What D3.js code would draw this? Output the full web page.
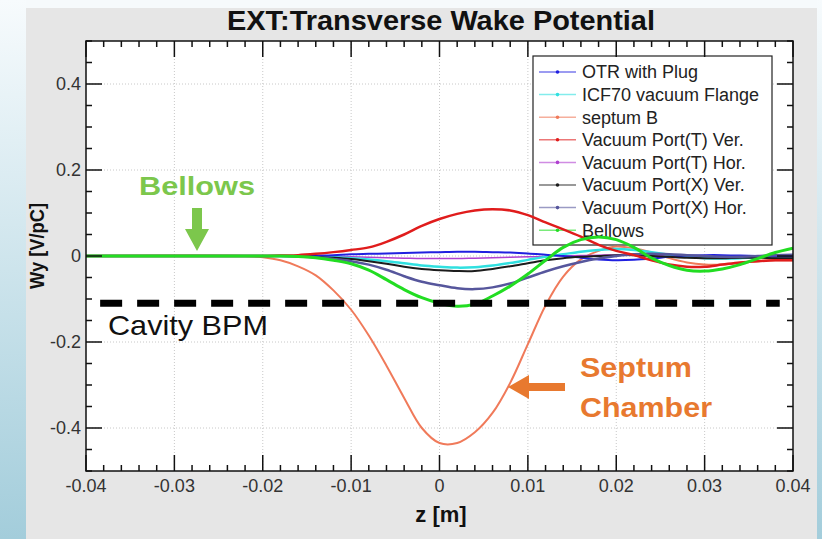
<!DOCTYPE html>
<html>
<head>
<meta charset="utf-8">
<script src="https://cdn.jsdelivr.net/npm/d3@7"></script>
<style>
  html, body { margin: 0; padding: 0; background: #fff; }
  svg { display: block; }
</style>
</head>
<body>
<svg id="chart" width="822" height="539"></svg>
<script>
// Longitudinal position along the bunch, z [m]
const zGrid = [-0.04, -0.022, -0.020, -0.018, -0.016, -0.014, -0.012, -0.010, -0.008, -0.006,
               -0.004, -0.002, 0.000, 0.002, 0.004, 0.006, 0.008, 0.010, 0.012, 0.014,
               0.016, 0.018, 0.020, 0.022, 0.024, 0.026, 0.028, 0.030, 0.032, 0.034,
               0.036, 0.038, 0.040];

// Transverse wake potential Wy [V/pC] for each component
const otrPlug  = [0, 0, 0, 0, 0, 0.001, 0.002, 0.004, 0.005, 0.006, 0.007, 0.008, 0.009, 0.010, 0.010, 0.009, 0.008,
                  0.006, 0.003, 0, -0.004, -0.008, -0.010, -0.009, -0.006, -0.002, 0.001, 0.002, 0.002, 0.001, 0, -0.001, -0.001];
const icf70    = [0, 0, 0, 0, 0, -0.001, -0.003, -0.005, -0.008, -0.012, -0.017, -0.022, -0.025, -0.027, -0.026, -0.022, -0.016,
                  -0.009, -0.002, 0.004, 0.010, 0.014, 0.016, 0.014, 0.009, 0.003, -0.002, -0.005, -0.006, -0.005, -0.003, -0.001, 0];
const septumB  = [0, 0, -0.003, -0.010, -0.024, -0.045, -0.080, -0.125, -0.185, -0.255, -0.330, -0.400, -0.435, -0.435, -0.410, -0.365, -0.295,
                  -0.205, -0.115, -0.048, -0.008, 0.012, 0.022, 0.018, 0.008, -0.005, -0.015, -0.020, -0.020, -0.016, -0.012, -0.010, -0.010];
const portTVer = [0, 0, 0, 0.001, 0.002, 0.005, 0.009, 0.014, 0.020, 0.033, 0.050, 0.070, 0.086, 0.098, 0.106, 0.109, 0.106,
                  0.095, 0.078, 0.062, 0.045, 0.026, 0.012, 0.002, -0.010, -0.020, -0.025, -0.025, -0.020, -0.015, -0.012, -0.010, -0.010];
const portTHor = [0, 0, 0, 0, 0, 0, -0.001, -0.002, -0.003, -0.004, -0.005, -0.006, -0.006, -0.006, -0.005, -0.004, -0.003,
                  -0.002, -0.001, 0, 0.001, 0.002, 0.002, 0.002, 0.001, 0, -0.001, -0.001, -0.001, 0, 0, 0, 0];
const portXVer = [0, 0, 0, 0, 0, -0.002, -0.004, -0.007, -0.012, -0.018, -0.025, -0.030, -0.033, -0.035, -0.035, -0.030, -0.024,
                  -0.017, -0.010, -0.005, -0.002, 0, 0.002, 0.002, 0, -0.002, -0.004, -0.005, -0.005, -0.004, -0.004, -0.005, -0.005];
const portXHor = [0, 0, 0, 0, -0.001, -0.003, -0.007, -0.012, -0.020, -0.032, -0.047, -0.060, -0.068, -0.075, -0.077, -0.073, -0.064,
                  -0.050, -0.036, -0.024, -0.014, -0.006, 0, 0.004, 0.005, 0.004, 0.002, 0, -0.002, -0.002, 0, 0.002, 0.003];
const bellows  = [0, 0, 0, 0, -0.001, -0.004, -0.010, -0.018, -0.033, -0.055, -0.078, -0.097, -0.110, -0.117, -0.112, -0.093, -0.070,
                  -0.042, -0.010, 0.020, 0.038, 0.044, 0.038, 0.020, -0.005, -0.022, -0.033, -0.035, -0.030, -0.020, -0.006, 0.008, 0.018];

const seriesNames  = ["OTR with Plug", "ICF70 vacuum Flange", "septum B", "Vacuum Port(T) Ver.",
                      "Vacuum Port(T) Hor.", "Vacuum Port(X) Ver.", "Vacuum Port(X) Hor.", "Bellows"];
const seriesValues = [otrPlug, icf70, septumB, portTVer, portTHor, portXVer, portXHor, bellows];
const seriesColors = ["#2020e0", "#30e0e0", "#f07a5a", "#e01c1c", "#b040d0", "#1c1c1c", "#56569c", "#22dd22"];
const seriesWidths = [2, 2.5, 2, 2.5, 1.5, 2, 2.5, 3];
const drawOrder    = [2, 4, 1, 0, 5, 6, 3, 7];

const xTicks = [-0.04, -0.03, -0.02, -0.01, 0, 0.01, 0.02, 0.03, 0.04];
const xTickLabels = ["-0.04", "-0.03", "-0.02", "-0.01", "0", "0.01", "0.02", "0.03", "0.04"];
const yTicks = [-0.4, -0.2, 0, 0.2, 0.4];
const yTickLabels = ["-0.4", "-0.2", "0", "0.2", "0.4"];

// Cavity BPM resolution level
const bpmLevel = -0.11;
const bpmExtent = [-0.0384, 0.0385];

const svg = d3.select("#chart");
const W = 822, H = 539;
const plot = { left: 86, right: 793, top: 41, bottom: 471 };

// Page background: pale blue edge strips and gray figure panel
const defs = svg.append("defs");
const grad = defs.append("linearGradient").attr("id", "edge").attr("x1", 0).attr("y1", 0).attr("x2", 0).attr("y2", 1);
grad.append("stop").attr("offset", 0).attr("stop-color", "#f7fbfd");
grad.append("stop").attr("offset", 1).attr("stop-color", "#a3cddb");
svg.append("rect").attr("x", 0).attr("y", 0).attr("width", W).attr("height", H).attr("fill", "#f6fafc");
svg.append("rect").attr("x", 0).attr("y", 0).attr("width", 26).attr("height", H).attr("fill", "url(#edge)");
svg.append("rect").attr("x", 817).attr("y", 0).attr("width", 5).attr("height", H).attr("fill", "url(#edge)");
svg.append("rect").attr("x", 26).attr("y", 8).attr("width", 791).attr("height", H - 8).attr("fill", "#e6e6e6");

const x = d3.scaleLinear().domain([-0.04, 0.04]).range([plot.left, plot.right]);
const y = d3.scaleLinear().domain([-0.5, 0.5]).range([plot.bottom, plot.top]);

svg.append("rect").attr("x", plot.left).attr("y", plot.top)
  .attr("width", plot.right - plot.left).attr("height", plot.bottom - plot.top).attr("fill", "#fff");

// Dotted grid at major ticks
const grid = svg.append("g").attr("stroke", "#c8c8c8").attr("stroke-width", 1).attr("stroke-dasharray", "1,2");
grid.selectAll("line.gx").data(xTicks.slice(1, -1)).join("line")
  .attr("x1", d => x(d)).attr("x2", d => x(d)).attr("y1", plot.top).attr("y2", plot.bottom);
grid.selectAll("line.gy").data(yTicks).join("line")
  .attr("x1", plot.left).attr("x2", plot.right).attr("y1", d => y(d)).attr("y2", d => y(d));

const font = "'Liberation Sans', Arial, sans-serif";

// Legend (the curves are drawn over it)
const lg = { x: 533, y: 56, w: 239, h: 189, row: 22.6 };
const legend = svg.append("g");
legend.append("rect").attr("x", lg.x).attr("y", lg.y).attr("width", lg.w).attr("height", lg.h)
  .attr("fill", "#fff").attr("stroke", "#222").attr("stroke-width", 1.2);
seriesNames.forEach((name, i) => {
  const cy = lg.y + 16 + i * lg.row;
  legend.append("line").attr("x1", lg.x + 6).attr("x2", lg.x + 43).attr("y1", cy).attr("y2", cy)
    .attr("stroke", seriesColors[i]).attr("stroke-width", 1.5).attr("stroke-opacity", 0.6);
  legend.append("circle").attr("cx", lg.x + 24.5).attr("cy", cy).attr("r", 1.8).attr("fill", seriesColors[i]);
  legend.append("text").attr("x", lg.x + 49).attr("y", cy).attr("dy", "0.36em")
    .attr("font-family", font).attr("font-size", 18).attr("fill", "#222").text(name);
});

// Curves
const clip = defs.append("clipPath").attr("id", "plotclip");
clip.append("rect").attr("x", plot.left).attr("y", plot.top)
  .attr("width", plot.right - plot.left).attr("height", plot.bottom - plot.top);

const line = d3.line().x(d => x(d[0])).y(d => y(d[1])).curve(d3.curveCatmullRom.alpha(0.5));
const curves = svg.append("g").attr("clip-path", "url(#plotclip)");
drawOrder.forEach(i => {
  curves.append("path")
    .datum(zGrid.map((z, k) => [z, seriesValues[i][k]]))
    .attr("d", line)
    .attr("fill", "none")
    .attr("stroke", seriesColors[i])
    .attr("stroke-width", seriesWidths[i])
    .attr("stroke-linejoin", "round");
});

// Cavity BPM dashed level
svg.append("line")
  .attr("x1", x(bpmExtent[0])).attr("x2", x(bpmExtent[1]))
  .attr("y1", y(bpmLevel)).attr("y2", y(bpmLevel))
  .attr("stroke", "#000").attr("stroke-width", 7).attr("stroke-dasharray", "22,15");

// Frame and inward ticks on all four sides
const axes = svg.append("g").attr("stroke", "#111").attr("stroke-width", 1.5);
axes.append("rect").attr("x", plot.left).attr("y", plot.top)
  .attr("width", plot.right - plot.left).attr("height", plot.bottom - plot.top).attr("fill", "none");
const xMinor = d3.range(-0.04, 0.04001, 0.002);
const yMinor = d3.range(-0.5, 0.5001, 0.05);
const major = 16, minor = 6;
const isMajor = (v, arr) => arr.some(t => Math.abs(t - v) < 1e-9);
xMinor.forEach(v => {
  const len = isMajor(v, xTicks) ? major : minor;
  axes.append("line").attr("x1", x(v)).attr("x2", x(v)).attr("y1", plot.bottom).attr("y2", plot.bottom - len);
  axes.append("line").attr("x1", x(v)).attr("x2", x(v)).attr("y1", plot.top).attr("y2", plot.top + len);
});
yMinor.forEach(v => {
  const len = isMajor(v, yTicks) ? major : minor;
  axes.append("line").attr("x1", plot.left).attr("x2", plot.left + len).attr("y1", y(v)).attr("y2", y(v));
  axes.append("line").attr("x1", plot.right).attr("x2", plot.right - len).attr("y1", y(v)).attr("y2", y(v));
});

// Tick labels
svg.append("g").selectAll("text").data(xTicks).join("text")
  .attr("x", d => x(d)).attr("y", 492)
  .attr("text-anchor", "middle").attr("font-family", font).attr("font-size", 18).attr("fill", "#333")
  .text((d, i) => xTickLabels[i]);
svg.append("g").selectAll("text").data(yTicks).join("text")
  .attr("x", plot.left - 5).attr("y", d => y(d)).attr("dy", "0.36em")
  .attr("text-anchor", "end").attr("font-family", font).attr("font-size", 18).attr("fill", "#333")
  .text((d, i) => yTickLabels[i]);

// Title and axis titles
svg.append("text").attr("x", 441).attr("y", 30).attr("text-anchor", "middle")
  .attr("font-family", font).attr("font-weight", "bold").attr("font-size", 27).attr("fill", "#111")
  .attr("textLength", 428).attr("lengthAdjust", "spacingAndGlyphs")
  .text("EXT:Transverse Wake Potential");
svg.append("text").attr("x", 441).attr("y", 522).attr("text-anchor", "middle")
  .attr("font-family", font).attr("font-weight", "bold").attr("font-size", 22).attr("fill", "#111")
  .text("z [m]");
svg.append("text").attr("transform", "translate(44,246) rotate(-90)").attr("text-anchor", "middle")
  .attr("font-family", font).attr("font-weight", "bold").attr("font-size", 20).attr("fill", "#111")
  .attr("textLength", 86).attr("lengthAdjust", "spacingAndGlyphs")
  .text("Wy [V/pC]");

// Annotations
const ann = svg.append("g").attr("font-family", font).attr("font-weight", "bold");

// Cavity BPM label
ann.append("text").attr("x", 108).attr("y", 335).attr("font-weight", "normal")
  .attr("font-size", 28).attr("fill", "#111").attr("textLength", 160).attr("lengthAdjust", "spacingAndGlyphs")
  .text("Cavity BPM");

// Bellows label with downward arrow
const bellowsGreen = "#7cc74c";
ann.append("text").attr("x", 197).attr("y", 195).attr("text-anchor", "middle")
  .attr("font-size", 26).attr("fill", bellowsGreen).attr("textLength", 116).attr("lengthAdjust", "spacingAndGlyphs")
  .text("Bellows");
ann.append("path")
  .attr("d", "M192,208 L202,208 L202,229 L209,229 L197,251 L185,229 L192,229 Z")
  .attr("fill", bellowsGreen);

// Septum Chamber label with leftward arrow
const septumOrange = "#e8792f";
ann.append("text").attr("x", 580).attr("y", 377)
  .attr("font-size", 28).attr("fill", septumOrange).attr("textLength", 112).attr("lengthAdjust", "spacingAndGlyphs")
  .text("Septum");
ann.append("text").attr("x", 580).attr("y", 417)
  .attr("font-size", 28).attr("fill", septumOrange).attr("textLength", 132).attr("lengthAdjust", "spacingAndGlyphs")
  .text("Chamber");
ann.append("path")
  .attr("d", "M565,383 L565,391 L529,391 L529,399 L508,387 L529,375 L529,383 Z")
  .attr("fill", septumOrange);
</script>
</body>
</html>
